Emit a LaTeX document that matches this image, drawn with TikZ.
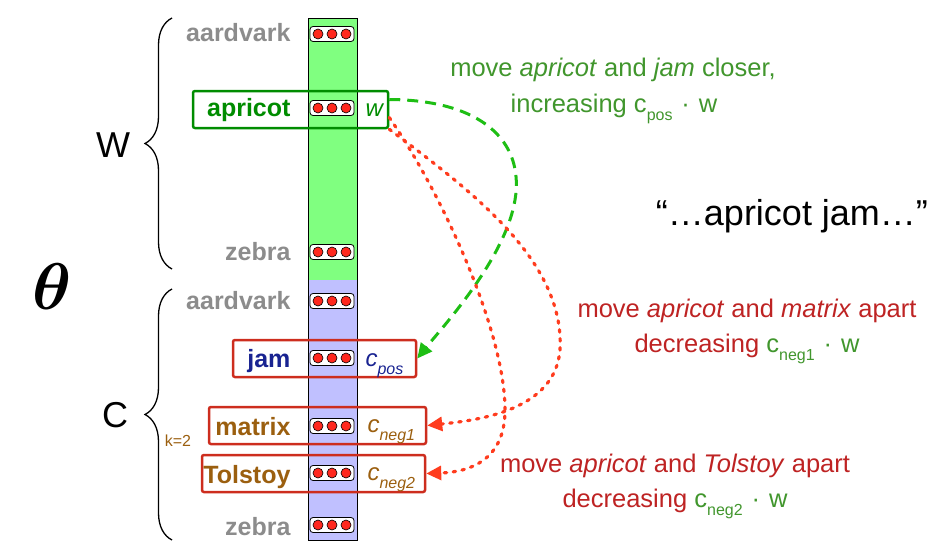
\documentclass[tikz,border=0pt]{standalone}
\usepackage{amsmath,amsbsy}
\usepackage{fontspec}
\setmainfont{Liberation Sans}
\usetikzlibrary{arrows.meta,decorations.pathreplacing}

\definecolor{colgreen}{RGB}{128,255,128}
\definecolor{colblue}{RGB}{192,192,255}
\definecolor{wordgray}{RGB}{140,140,140}
\definecolor{aprgreen}{RGB}{0,140,0}
\definecolor{jamblue}{RGB}{25,35,145}
\definecolor{negbrown}{RGB}{155,95,15}
\definecolor{boxred}{RGB}{205,45,30}
\definecolor{dotred}{RGB}{255,40,30}
\definecolor{linegreen}{RGB}{30,190,20}
\definecolor{linered}{RGB}{255,60,30}
\definecolor{notegreen}{RGB}{65,150,45}
\definecolor{notered}{RGB}{190,35,35}

\newcommand{\lowsub}[1]{\raisebox{-0.35em}{\fontsize{16}{16}\selectfont #1}}

\tikzset{
    word/.style={font=\fontsize{25}{25}\selectfont\bfseries, anchor=base east},
    vecname/.style={font=\fontsize{24}{24}\selectfont\itshape, anchor=base west},
    pill/.style={draw=black, fill=white, rounded corners=3pt, minimum width=44pt, minimum height=15pt, inner sep=0pt, line width=0.8pt},
    embdot/.style={fill=dotred, draw=black, line width=0.6pt},
    wordbox/.style={line width=2.5pt, rounded corners=2pt, minimum height=37pt, inner sep=0pt},
    notetext/.style={font=\fontsize{25.5}{25.5}\selectfont, anchor=base},
    bigbrace/.style={decorate, decoration={brace, amplitude=27pt}, line width=1.3pt},
    posline/.style={linegreen, line width=3pt, dash pattern=on 11pt off 7pt, -{Triangle[length=15pt, width=14pt]}},
    negline/.style={linered, line width=3.2pt, line cap=round, dash pattern=on 2.5pt off 6.5pt, -{Triangle[length=15pt, width=14pt]}},
}

\newcommand{\embvec}[2]{%
    \node[pill] at (332, #2) (#1) {};
    \foreach \cx in {-14, 0, 14}
        \draw[embdot] ([xshift=\cx pt]#1.center) circle (5pt);
}

\begin{document}
\begin{tikzpicture}[x=1pt, y=-1pt]
    \useasboundingbox (0, 0) rectangle (945, 551);

    \fill[colgreen] (308, 18) rectangle (357, 280);
    \fill[colblue] (308, 280) rectangle (357, 540);
    \draw[line width=0.8pt] (308, 18) rectangle (357, 540);

    \node[wordbox, draw=aprgreen, minimum width=195pt] at (290.5, 109.5) (bapricot) {};
    \node[wordbox, draw=boxred, minimum width=183pt] at (324.5, 358.5) (bjam) {};
    \node[wordbox, draw=boxred, minimum width=217pt] at (317.5, 425.5) (bmatrix) {};
    \node[wordbox, draw=boxred, minimum width=223pt] at (313.5, 473.5) (btolstoy) {};

    \embvec{vaardvarkW}{34}
    \embvec{vapricot}{108}
    \embvec{vzebraW}{252}
    \embvec{vaardvarkC}{301}
    \embvec{vjam}{358}
    \embvec{vmatrix}{426}
    \embvec{vtolstoy}{473}
    \embvec{vzebraC}{525}

    \node[word, wordgray] at (294, 42) (aardvarkW) {aardvark};
    \node[word, aprgreen] at (294, 116) (apricot) {apricot};
    \node[word, wordgray] at (294, 260) (zebraW) {zebra};
    \node[word, wordgray] at (294, 309) (aardvarkC) {aardvark};
    \node[word, jamblue] at (294, 367) (jam) {jam};
    \node[word, negbrown] at (294, 435) (matrix) {matrix};
    \node[word, negbrown] at (294, 483) (tolstoy) {Tolstoy};
    \node[word, wordgray] at (294, 535) (zebraC) {zebra};

    \node[vecname, aprgreen] at (362, 116) (w) {w};
    \node[vecname, jamblue] at (362, 366) (cpos) {c\lowsub{pos}};
    \node[vecname, negbrown] at (364, 432) (cnegA) {c\lowsub{neg1}};
    \node[vecname, negbrown] at (364, 480) (cnegB) {c\lowsub{neg2}};

    \draw[bigbrace] (172, 269) -- (172, 18);
    \draw[bigbrace] (172, 540) -- (172, 289);
    \node[font=\fontsize{36}{36}\selectfont] at (113, 145) (W) {W};
    \node[font=\fontsize{36}{36}\selectfont] at (115, 415) (C) {C};
    \node at (52, 287) (theta) {\scalebox{6.6}{$\boldsymbol{\theta}$}};
    \node[font=\fontsize{16}{16}\selectfont, negbrown] at (178, 441) (k) {k=2};

    \draw[posline] ([yshift=10pt]bapricot.east) .. controls (480, 100) and (525, 140) .. (515, 200)
        .. controls (505, 260) and (440, 330) .. (bjam.east);
    \draw[negline] (bapricot.south east) .. controls (470, 190) and (565, 260) .. (560, 350)
        .. controls (555, 410) and (480, 420) .. (bmatrix.east);
    \draw[negline] ([yshift=-8pt]bapricot.east) .. controls (440, 190) and (505, 330) .. (505, 410)
        .. controls (505, 460) and (470, 472) .. (btolstoy.east);

    \node[notetext, notegreen] at (613, 77) (posA) {move \textit{apricot} and \textit{jam} closer,};
    \node[notetext, notegreen] at (614, 112) (posB) {increasing c\lowsub{pos}\hspace{0.35em}·\hspace{0.35em}w};
    \node[font=\fontsize{36}{36}\selectfont, anchor=base] at (792, 225) (quote) {“…apricot jam…”};
    \node[notetext, notered] at (747, 317) (negAa) {move \textit{apricot} and \textit{matrix} apart};
    \node[notetext, notered] at (747, 352) (negAb) {decreasing {\color{notegreen}c\lowsub{neg1}\hspace{0.35em}·\hspace{0.35em}w}};
    \node[notetext, notered] at (675, 472) (negBa) {move \textit{apricot} and \textit{Tolstoy} apart};
    \node[notetext, notered] at (675, 507) (negBb) {decreasing {\color{notegreen}c\lowsub{neg2}\hspace{0.35em}·\hspace{0.35em}w}};
\end{tikzpicture}
\end{document}
